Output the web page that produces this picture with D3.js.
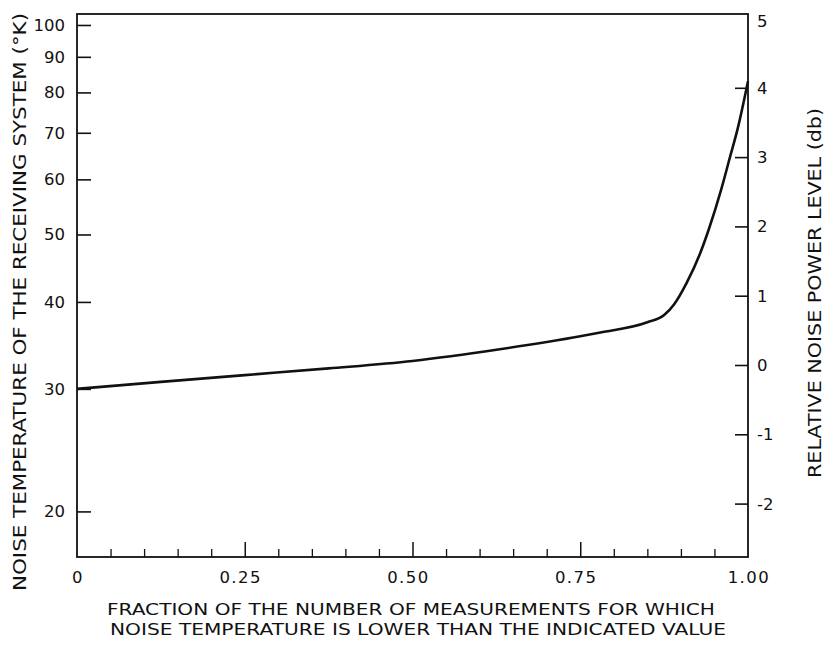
<!DOCTYPE html>
<html>
<head>
<meta charset="utf-8">
<script src="https://cdn.jsdelivr.net/npm/d3@7"></script>
<style>
body { margin: 0; background: #fff; }
text { font-family: "DejaVu Sans", sans-serif; fill: #111; }
</style>
</head>
<body>
<div id="chart"></div>
<script>

// curve
let fraction = [0, 0.125, 0.25, 0.375, 0.5, 0.63, 0.75, 0.78, 0.85, 0.875, 0.89, 0.908, 0.928, 0.942, 0.96, 0.973, 0.985, 1.0];
let temperature = [30.0, 30.7, 31.4, 32.1, 32.9, 34.2, 35.7, 36.15, 37.4, 38.3, 39.7, 42.5, 46.8, 51.0, 58.0, 64.5, 71.2, 83.0];

let tempTicks = [20, 30, 40, 50, 60, 70, 80, 90, 100];
let dbTicks = [-2, -1, 0, 1, 2, 3, 4, 5];
let xMajorTicks = [0, 0.25, 0.5, 0.75, 1.0];
let xMinorTicks = [0.05, 0.1, 0.15, 0.2, 0.3, 0.35, 0.4, 0.45, 0.55, 0.6, 0.65, 0.7, 0.8, 0.85, 0.9, 0.95];
let xTickLabels = ["0", "0.25", "0.50", "0.75", "1.00"];

let svgWidth = 828;
let svgHeight = 646;

let margin = {
    top: 14,
    right: 80,
    bottom: 89,
    left: 77
};

let width = svgWidth - margin.left - margin.right;
let height = svgHeight - margin.top - margin.bottom;

let svg = d3.select("#chart")
    .append("svg")
    .attr("width", svgWidth)
    .attr("height", svgHeight);

let chartGroup = svg.append("g")
    .attr("transform", `translate(${margin.left}, ${margin.top})`);

let xScale = d3.scaleLinear()
    .domain([0, 1])
    .range([0, width]);

let yScale = d3.scaleLog()
    .domain([17.2, 103.7])
    .range([height, 0]);

let dbScale = d3.scaleLinear()
    .domain([-2, 5])
    .range([489.6, 4.5]);

// frame
chartGroup.append("rect")
    .attr("x", 0)
    .attr("y", 0)
    .attr("width", width)
    .attr("height", height)
    .attr("fill", "none")
    .attr("stroke", "#111")
    .attr("stroke-width", 1.8);

// left axis, ticks point inward
let leftAxis = d3.axisRight(yScale)
    .tickValues(tempTicks)
    .tickSize(14)
    .tickFormat("");

chartGroup.append("g")
    .call(leftAxis)
    .call(g => g.select(".domain").remove())
    .call(g => g.selectAll("line").attr("stroke", "#111").attr("stroke-width", 1.6));

chartGroup.append("g").selectAll("text")
    .data(tempTicks)
    .enter()
    .append("text")
    .attr("x", -12)
    .attr("y", d => yScale(d))
    .attr("dy", "0.36em")
    .attr("text-anchor", "end")
    .attr("font-size", "16.5px")
    .text(d => d);

// right axis
let rightAxis = d3.axisLeft(dbScale)
    .tickValues(dbTicks.filter(d => d < 5))
    .tickSize(13)
    .tickFormat("");

chartGroup.append("g")
    .attr("transform", `translate(${width}, 0)`)
    .call(rightAxis)
    .call(g => g.select(".domain").remove())
    .call(g => g.selectAll("line").attr("stroke", "#111").attr("stroke-width", 1.6));

chartGroup.append("g").selectAll("text")
    .data(dbTicks)
    .enter()
    .append("text")
    .attr("x", width + 9)
    .attr("y", d => dbScale(d) + (d === 5 ? 3 : 0))
    .attr("dy", "0.36em")
    .attr("text-anchor", "start")
    .attr("font-size", "16.5px")
    .text(d => d < 0 ? "-" + Math.abs(d) : d);

// bottom axis
let bottomMajor = d3.axisTop(xScale)
    .tickValues(xMajorTicks.filter(d => d > 0 && d < 1))
    .tickSize(15)
    .tickFormat("");

let bottomMinor = d3.axisTop(xScale)
    .tickValues(xMinorTicks)
    .tickSize(8)
    .tickFormat("");

chartGroup.append("g")
    .attr("transform", `translate(0, ${height})`)
    .call(bottomMajor)
    .call(g => g.select(".domain").remove())
    .call(g => g.selectAll("line").attr("stroke", "#111").attr("stroke-width", 1.5));

chartGroup.append("g")
    .attr("transform", `translate(0, ${height})`)
    .call(bottomMinor)
    .call(g => g.select(".domain").remove())
    .call(g => g.selectAll("line").attr("stroke", "#111").attr("stroke-width", 1.3));

chartGroup.append("g").selectAll("text")
    .data(xMajorTicks)
    .enter()
    .append("text")
    .attr("x", (d, i) => xScale(d) + (i === 0 ? 1 : i === 4 ? 1 : -4))
    .attr("y", height + 26)
    .attr("text-anchor", "middle")
    .attr("font-size", "16.5px")
    .attr("letter-spacing", "1.5px")
    .text((d, i) => xTickLabels[i]);

// the curve
let line = d3.line()
    .x(d => xScale(d[0]))
    .y(d => yScale(d[1]))
    .curve(d3.curveMonotoneX);

chartGroup.append("path")
    .datum(fraction.map((f, i) => [f, temperature[i]]))
    .attr("d", line)
    .attr("fill", "none")
    .attr("stroke", "#111")
    .attr("stroke-width", 2.6);

// axis titles
svg.append("text")
    .attr("x", 411)
    .attr("y", 615)
    .attr("text-anchor", "middle")
    .attr("font-size", "16.5px")
    .attr("textLength", 608)
    .attr("lengthAdjust", "spacingAndGlyphs")
    .text("FRACTION OF THE NUMBER OF MEASUREMENTS FOR WHICH");

svg.append("text")
    .attr("x", 418)
    .attr("y", 635)
    .attr("text-anchor", "middle")
    .attr("font-size", "16.5px")
    .attr("textLength", 616)
    .attr("lengthAdjust", "spacingAndGlyphs")
    .text("NOISE TEMPERATURE IS LOWER THAN THE INDICATED VALUE");

svg.append("text")
    .attr("transform", "translate(26, 302) rotate(-90)")
    .attr("text-anchor", "middle")
    .attr("font-size", "17px")
    .attr("textLength", 578)
    .attr("lengthAdjust", "spacingAndGlyphs")
    .text("NOISE TEMPERATURE OF THE RECEIVING SYSTEM (°K)");

svg.append("text")
    .attr("transform", "translate(821, 293) rotate(-90)")
    .attr("text-anchor", "middle")
    .attr("font-size", "17px")
    .attr("textLength", 370)
    .attr("lengthAdjust", "spacingAndGlyphs")
    .text("RELATIVE NOISE POWER LEVEL (db)");

</script>
</body>
</html>
